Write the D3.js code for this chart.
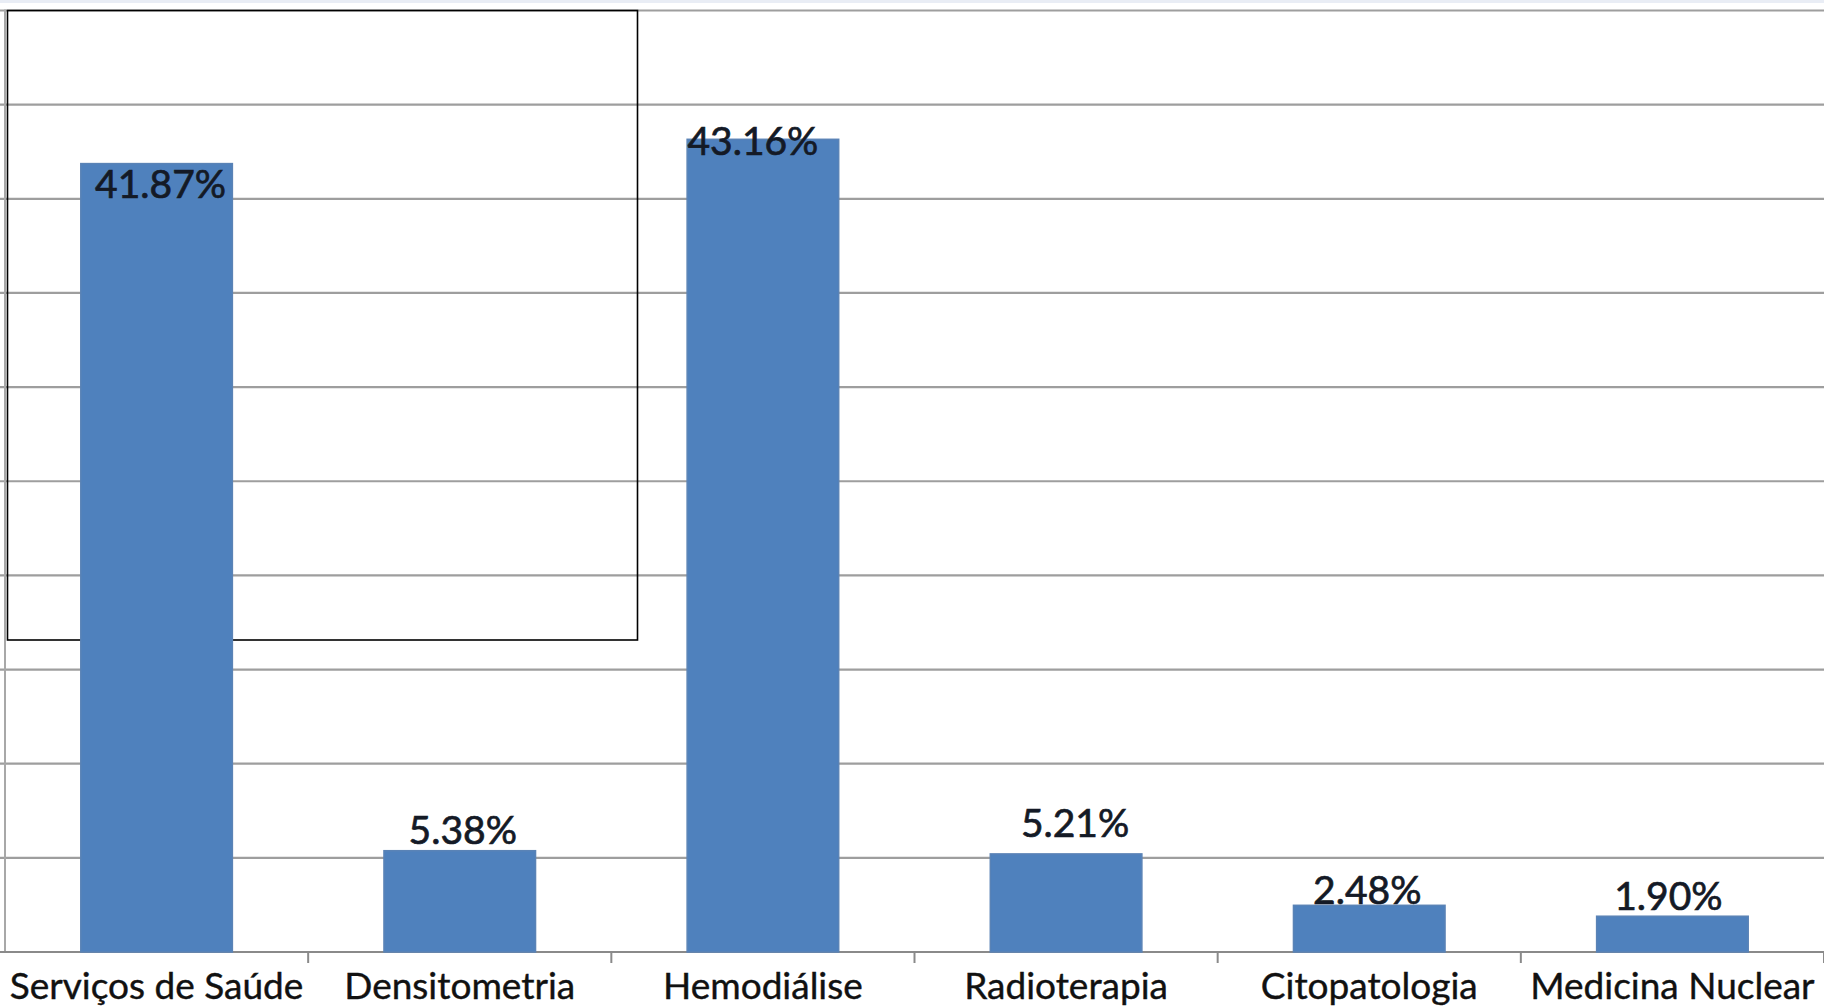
<!DOCTYPE html>
<html>
<head>
<meta charset="utf-8">
<script src="https://cdn.jsdelivr.net/npm/d3@7"></script>
<style>
  html, body { margin: 0; padding: 0; background: #ffffff; overflow: hidden; }
  svg { display: block; }
</style>
</head>
<body>
<svg id="chart" width="1824" height="1008"></svg>
<script>
// ---- data ----
const categories = ["Serviços de Saúde", "Densitometria", "Hemodiálise", "Radioterapia", "Citopatologia", "Medicina Nuclear"];
const values = [41.87, 5.38, 43.16, 5.21, 2.48, 1.90];
const valueLabels = ["41.87%", "5.38%", "43.16%", "5.21%", "2.48%", "1.90%"];
const yTicks = [0, 5, 10, 15, 20, 25, 30, 35, 40, 45, 50];

// ---- layout (label nudges relative to bar top / centre, as in the original) ----
const labelNudge = [[4, 34], [3, -7], [-10, 16], [9, -17], [-2, -1], [-4, -6]];
const W = 1824, H = 1008;
const plot = { left: 5, right: 1824, top: 10.5, bottom: 952 };
const annotationBox = { x0: 7.5, y0: 10.5, x1: 637.5, y1: 640 };

const svg = d3.select("#chart");

const x = d3.scaleBand()
  .domain(categories)
  .range([plot.left, plot.right])
  .paddingInner(0.5)
  .paddingOuter(0.25);

const y = d3.scaleLinear()
  .domain([0, 50])
  .range([plot.bottom, plot.top]);

// thin light strip at top
svg.append("rect").attr("x", 0).attr("y", 0).attr("width", W).attr("height", 3).attr("fill", "#e9edf5");

// gridlines (extend left past the axis as tick marks)
svg.append("g").selectAll("line")
  .data(yTicks.filter(d => d > 0))
  .join("line")
  .attr("x1", 0).attr("x2", W)
  .attr("y1", d => y(d)).attr("y2", d => y(d))
  .attr("stroke", "#9e9e9e")
  .attr("stroke-width", 2.2);

// left axis
svg.append("line")
  .attr("x1", plot.left).attr("x2", plot.left)
  .attr("y1", plot.top - 1).attr("y2", plot.bottom)
  .attr("stroke", "#a8a8a8").attr("stroke-width", 2);

// annotation box (drawn under bars)
svg.append("rect")
  .attr("x", annotationBox.x0).attr("y", annotationBox.y0)
  .attr("width", annotationBox.x1 - annotationBox.x0)
  .attr("height", annotationBox.y1 - annotationBox.y0)
  .attr("fill", "none").attr("stroke", "#000").attr("stroke-width", 1.6);

// x axis line
svg.append("line")
  .attr("x1", 0).attr("x2", W)
  .attr("y1", plot.bottom).attr("y2", plot.bottom)
  .attr("stroke", "#8a8a8a").attr("stroke-width", 2);

// category boundary ticks
const step = x.step();
svg.append("g").selectAll("line")
  .data(categories)
  .join("line")
  .attr("x1", d => x(d) + x.bandwidth() + (step - x.bandwidth()) / 2)
  .attr("x2", d => x(d) + x.bandwidth() + (step - x.bandwidth()) / 2)
  .attr("y1", plot.bottom).attr("y2", plot.bottom + 11)
  .attr("stroke", "#8a8a8a").attr("stroke-width", 2);

// bars
svg.append("g").selectAll("rect")
  .data(values)
  .join("rect")
  .attr("x", (d, i) => x(categories[i]))
  .attr("y", d => y(d))
  .attr("width", x.bandwidth())
  .attr("height", d => y(0) - y(d))
  .attr("fill", "#4f81bd")
  .attr("stroke", "#5a83b6")
  .attr("stroke-width", 1.5);

// value labels
svg.append("g").selectAll("text")
  .data(values)
  .join("text")
  .attr("x", (d, i) => x(categories[i]) + x.bandwidth() / 2 + labelNudge[i][0])
  .attr("y", (d, i) => y(d) + labelNudge[i][1])
  .attr("text-anchor", "middle")
  .attr("font-family", "Lato, 'Open Sans', sans-serif")
  .attr("font-size", 39)
  .attr("fill", "#141a26")
  .attr("stroke", "#141a26")
  .attr("stroke-width", 0.7)
  .text((d, i) => valueLabels[i]);

// category labels
svg.append("g").selectAll("text")
  .data(categories)
  .join("text")
  .attr("x", d => x(d) + x.bandwidth() / 2)
  .attr("y", 999)
  .attr("text-anchor", "middle")
  .attr("font-family", "Lato, 'Open Sans', sans-serif")
  .attr("font-size", 37)
  .attr("fill", "#111")
  .attr("stroke", "#111")
  .attr("stroke-width", 0.4)
  .text(d => d);
</script>
</body>
</html>
